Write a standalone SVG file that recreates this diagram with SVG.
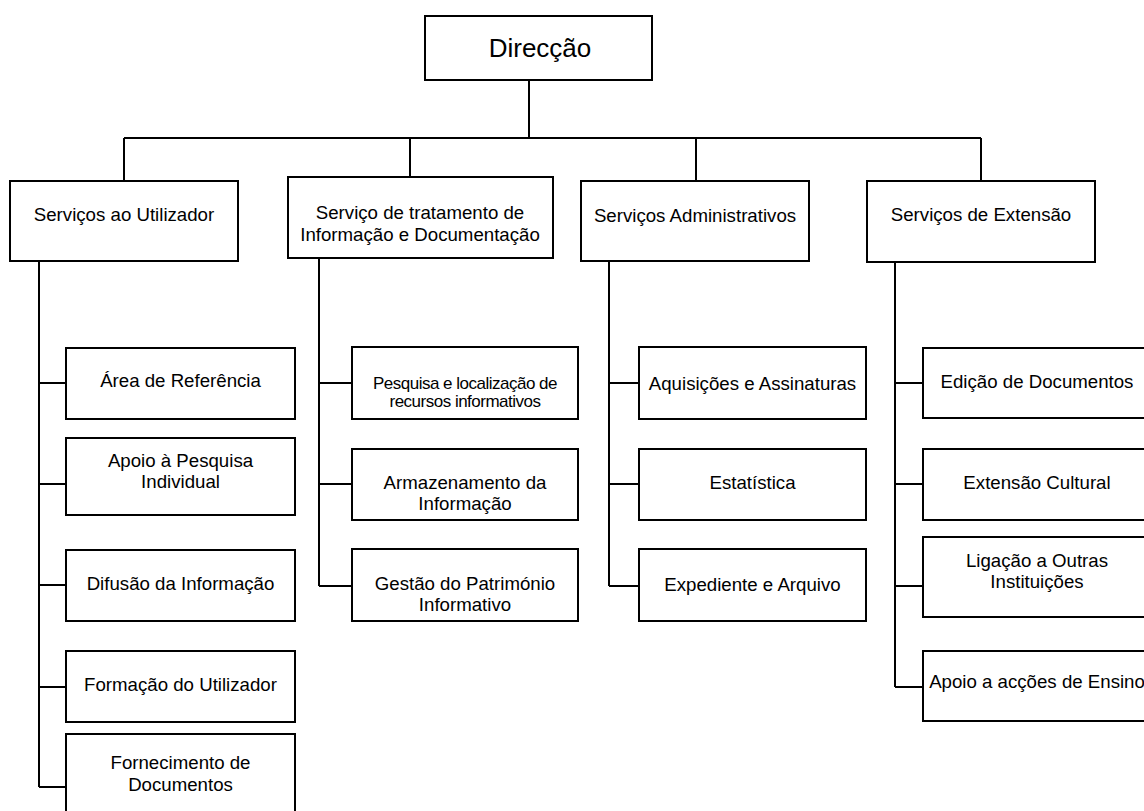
<svg xmlns="http://www.w3.org/2000/svg" width="1144" height="811" viewBox="0 0 1144 811">
<style>
rect{fill:#fff;stroke:#000;stroke-width:2}
text{font-family:"Liberation Sans",Arial,sans-serif;font-size:18.67px;text-anchor:middle;fill:#000}
.big{font-size:26px}
.cond{font-size:17px;letter-spacing:-0.5px}
#connectors path{fill:none;stroke:#000;stroke-width:2}
</style>
<rect x="0" y="0" width="1144" height="811" style="fill:#fff;stroke:none"/>
<g id="connectors">
<path d="M529 80V138M124 138H981M124 138V181M410 138V177M696 138V181M981 138V181"/>
<path d="M39 261V787M39 383H66M39 484H66M39 585H66M39 687H66M39 787H66"/>
<path d="M319 258V586M319 383H352M319 484H352M319 586H352"/>
<path d="M609 261V586M609 383H639M609 484H639M609 586H639"/>
<path d="M895 262V687M895 383H923M895 484H923M895 586H923M895 687H923"/>
</g>
<g id="direccao"><rect x="425" y="16" width="227" height="64"/><text class="big" x="540" y="57">Direcção</text></g>
<g id="utilizador"><rect x="10" y="181" width="228" height="80"/><text x="124" y="221">Serviços ao Utilizador</text></g>
<g id="tratamento"><rect x="288" y="177" width="265" height="81"/><text x="420" y="219">Serviço de tratamento de</text><text x="420" y="241">Informação e Documentação</text></g>
<g id="administrativos"><rect x="581" y="181" width="228" height="80"/><text x="695" y="222">Serviços Administrativos</text></g>
<g id="extensao"><rect x="867" y="181" width="228" height="81"/><text x="981" y="221">Serviços de Extensão</text></g>
<g id="area-referencia"><rect x="66" y="348" width="229" height="71"/><text x="180.5" y="387">Área de Referência</text></g>
<g id="apoio-pesquisa"><rect x="66" y="438" width="229" height="77"/><text x="180.5" y="466.5">Apoio à Pesquisa</text><text x="180.5" y="488">Individual</text></g>
<g id="difusao"><rect x="66" y="550" width="229" height="71"/><text x="180.5" y="590">Difusão da Informação</text></g>
<g id="formacao"><rect x="66" y="651" width="229" height="71"/><text x="180.5" y="690.5">Formação do Utilizador</text></g>
<g id="fornecimento"><rect x="66" y="734" width="229" height="90"/><text x="180.5" y="769">Fornecimento de</text><text x="180.5" y="790.5">Documentos</text></g>
<g id="pesquisa-localizacao"><rect x="352" y="347" width="226" height="72"/><text class="cond" x="465" y="389">Pesquisa e localização de</text><text class="cond" x="465" y="407">recursos informativos</text></g>
<g id="armazenamento"><rect x="352" y="449" width="226" height="71"/><text x="465" y="489">Armazenamento da</text><text x="465" y="509.5">Informação</text></g>
<g id="gestao"><rect x="352" y="549" width="226" height="72"/><text x="465" y="590">Gestão do Património</text><text x="465" y="610.5">Informativo</text></g>
<g id="aquisicoes"><rect x="639" y="347" width="227" height="72"/><text x="752.5" y="389.5">Aquisições e Assinaturas</text></g>
<g id="estatistica"><rect x="639" y="449" width="227" height="71"/><text x="752.5" y="489">Estatística</text></g>
<g id="expediente"><rect x="639" y="549" width="227" height="72"/><text x="752.5" y="590.5">Expediente e Arquivo</text></g>
<g id="edicao"><rect x="923" y="348" width="228" height="70"/><text x="1037" y="388">Edição de Documentos</text></g>
<g id="extensao-cultural"><rect x="923" y="449" width="228" height="71"/><text x="1037" y="489">Extensão Cultural</text></g>
<g id="ligacao"><rect x="923" y="537" width="228" height="80"/><text x="1037" y="567">Ligação a Outras</text><text x="1037" y="588">Instituições</text></g>
<g id="apoio-ensino"><rect x="923" y="651" width="228" height="70"/><text x="1037" y="688">Apoio a acções de Ensino</text></g>
</svg>
